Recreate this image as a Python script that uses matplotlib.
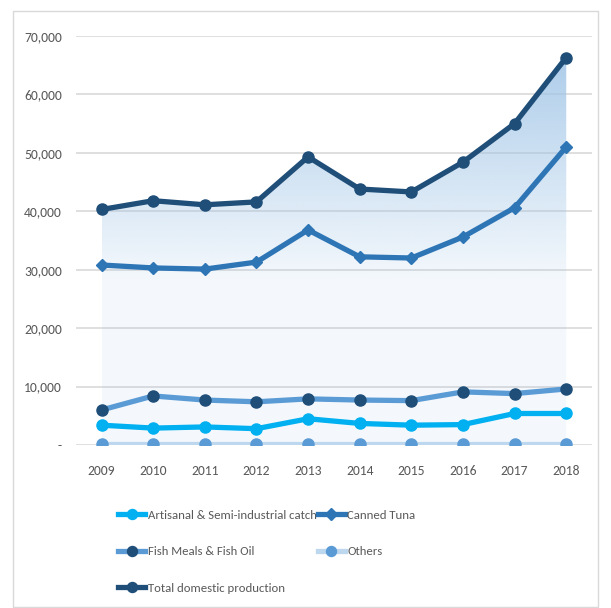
import numpy as np
import matplotlib
matplotlib.use('Agg')
import matplotlib.pyplot as plt
from matplotlib.colors import to_rgb
from matplotlib.patches import Rectangle
from matplotlib.ticker import FuncFormatter

years = ['2009', '2010', '2011', '2012', '2013', '2014', '2015', '2016', '2017', '2018']
artisanal = [3400, 2900, 3100, 2800, 4500, 3700, 3400, 3500, 5400, 5400]
canned_tuna = [30800, 30300, 30100, 31300, 36800, 32200, 32000, 35600, 40600, 51000]
fish_meal = [6000, 8400, 7700, 7400, 7900, 7700, 7600, 9100, 8800, 9600]
others = [150, 150, 150, 150, 150, 150, 150, 150, 150, 150]
total = [40300, 41800, 41100, 41600, 49300, 43800, 43300, 48400, 55000, 66300]

plt.rcParams['font.family'] = ['Carlito', 'DejaVu Sans']
TXT = '#595959'

fig = plt.figure(figsize=(6.11, 6.08), dpi=100, facecolor='white')
ax = fig.add_axes([0.124, 0.268, 0.845, 0.673])
x = np.arange(len(years))

# gradient area under the total line: strong at the top, fading to a pale wash
poly = ax.fill_between(x, 0, total, color='none', lw=0)
top = max(total)
n = 256
yy = np.linspace(0, top, n)
alpha = np.clip(0.11 + (yy - 28000) / (top - 28000) * 0.72, 0.11, 0.83)
grad = np.zeros((n, 1, 4))
grad[:, 0, :3] = to_rgb('#9dc3e6')
grad[:, 0, 3] = alpha
img = ax.imshow(grad, extent=[x[0], x[-1], 0, top], origin='lower',
                aspect='auto', zorder=1, interpolation='bilinear')
img.set_clip_path(poly.get_paths()[0], transform=ax.transData)

lw, ms = 3.8, 8
l_oth, = ax.plot(x, others, color='#bdd7ee', lw=lw, marker='o', ms=ms,
                 mfc='#5b9bd5', mec='#5b9bd5', zorder=3, label='Others')
l_art, = ax.plot(x, artisanal, color='#00b0f0', lw=lw, marker='o', ms=ms,
                 mfc='#00b0f0', mec='#00b0f0', zorder=3,
                 label='Artisanal & Semi-industrial catch')
l_fish, = ax.plot(x, fish_meal, color='#5b9bd5', lw=lw, marker='o', ms=ms,
                  mfc='#1f4e79', mec='#1f4e79', zorder=3, label='Fish Meals & Fish Oil')
l_tuna, = ax.plot(x, canned_tuna, color='#2e75b6', lw=lw, marker='D', ms=6.5,
                  mfc='#2e75b6', mec='#2e75b6', zorder=3, label='Canned Tuna')
l_tot, = ax.plot(x, total, color='#1f4e79', lw=lw, marker='o', ms=ms,
                 mfc='#1f4e79', mec='#1f4e79', zorder=3, label='Total domestic production')

ax.set_xlim(-0.5, 9.5)
ax.set_ylim(0, 70000)
ax.set_yticks(np.arange(0, 70001, 10000))
ax.yaxis.set_major_formatter(FuncFormatter(lambda v, p: '-' if v == 0 else f'{int(v):,}'))
ax.set_xticks(x)
ax.set_xticklabels(years)
ax.grid(axis='y', color='#d9d9d9', lw=1.2)
ax.set_axisbelow(True)
for s in ax.spines.values():
    s.set_visible(False)
ax.tick_params(length=0, labelsize=9.8, colors=TXT)
ax.tick_params(axis='x', pad=14)
ax.tick_params(axis='y', pad=10)

# legend fills column by column
handles = [l_art, l_fish, l_tot, l_tuna, l_oth]
fig.legend(handles, [h.get_label() for h in handles],
           loc='upper left', bbox_to_anchor=(0.183, 0.172), ncol=2, frameon=False,
           borderpad=0, fontsize=9.2, labelcolor=TXT, handlelength=2.1,
           handletextpad=0.2, columnspacing=0.1, labelspacing=2.0, markerscale=0.9)

fig.patches.append(Rectangle((13 / 611, 1 / 608), 585 / 611, 596 / 608,
                             transform=fig.transFigure, fill=False,
                             edgecolor='#d9d9d9', lw=1))

fig.savefig('out.png', dpi=100)
